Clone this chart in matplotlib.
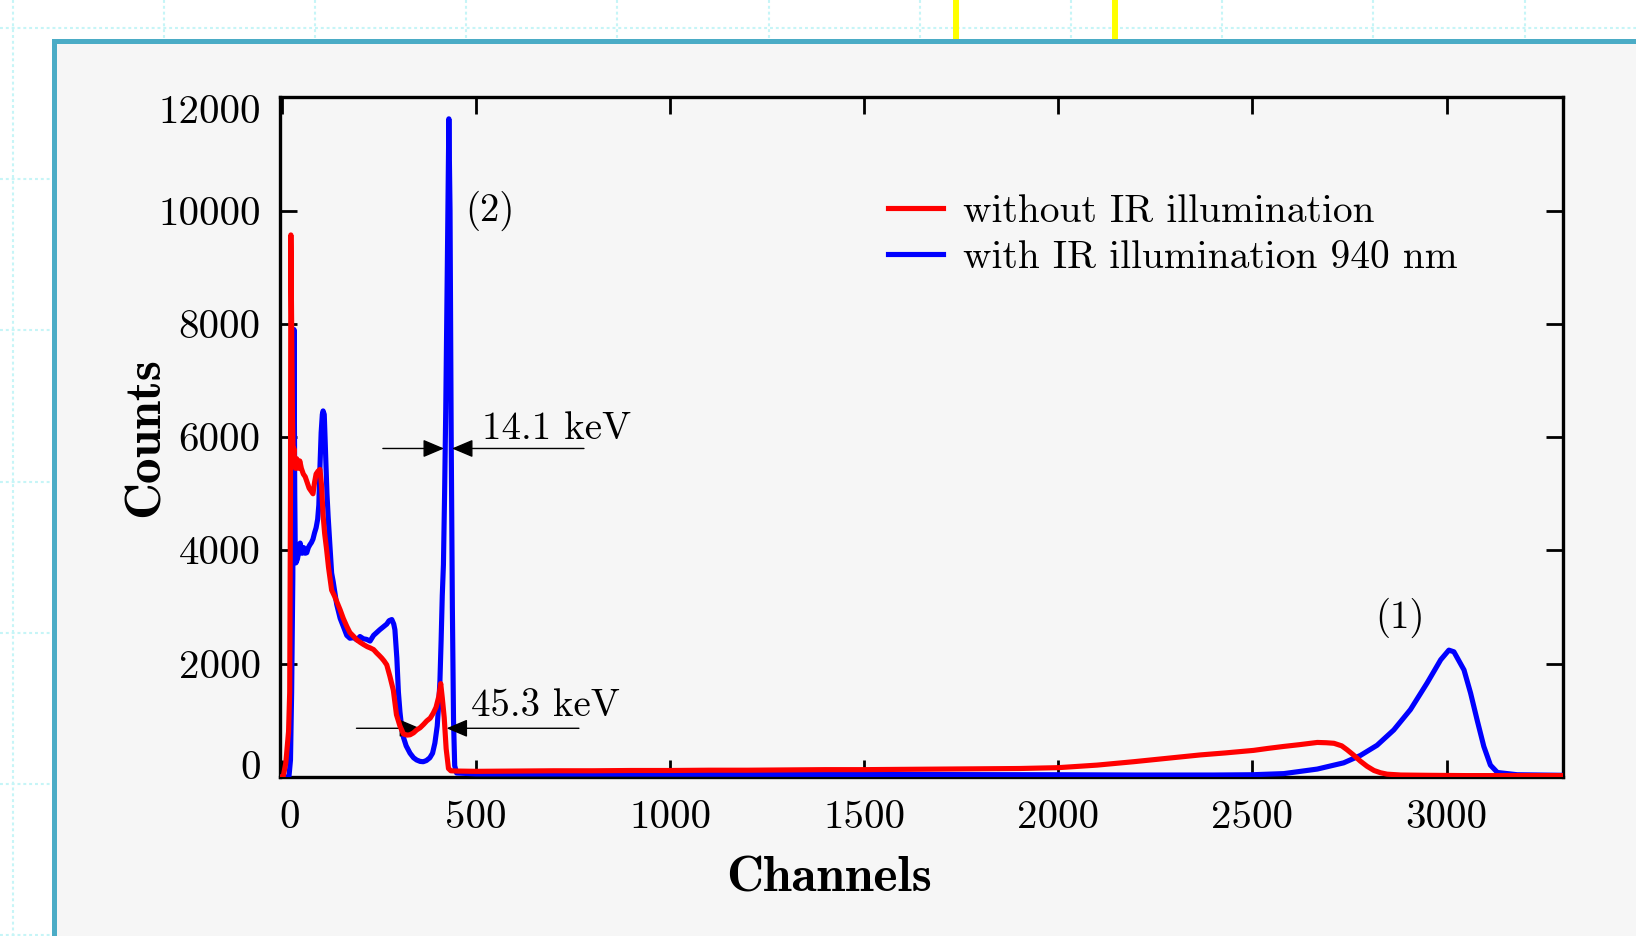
import matplotlib
matplotlib.use("Agg")
import matplotlib.pyplot as plt
from matplotlib.patches import Rectangle
from matplotlib.transforms import ScaledTranslation
import numpy as np

# ---------------- data ----------------
red_ch = [0, 3, 10, 17, 20, 22, 23, 25, 27, 29, 31, 33, 35, 38, 42, 46, 50, 55, 60, 65,
          70, 75, 80, 84, 88, 93, 98, 102, 106, 110, 115, 120, 128, 135, 141, 150, 158,
          167, 175, 185, 193, 201, 210, 220, 227, 236, 244, 250, 257, 263, 270, 278, 287,
          295, 304, 313, 322, 330, 339, 347, 356, 365, 373, 382, 390, 397, 404, 409, 413,
          418, 423, 429, 435, 450, 500, 600, 700, 800, 900, 1000, 1100, 1200, 1300, 1400,
          1500, 1600, 1700, 1800, 1900, 2000, 2100, 2194, 2280, 2366, 2430, 2503, 2540,
          2581, 2620, 2667, 2690, 2710, 2730, 2744, 2760, 2778, 2795, 2813, 2830, 2847,
          2882, 2950, 3050, 3150, 3300]
red_counts = [0, 0, 250, 800, 1500, 5000, 9570, 8000, 6400, 5650, 5800, 5500, 5450, 5620,
              5450, 5580, 5450, 5350, 5300, 5200, 5100, 5050, 5000, 5200, 5350, 5400, 5430,
              5150, 4620, 4300, 4020, 3700, 3300, 3200, 3100, 2950, 2800, 2660, 2550, 2480,
              2420, 2380, 2340, 2300, 2280, 2250, 2190, 2150, 2100, 2050, 1980, 1780, 1530,
              1100, 900, 760, 740, 745, 780, 830, 870, 930, 990, 1040, 1130, 1230, 1420,
              1650, 1400, 1050, 500, 150, 110, 105, 100, 105, 110, 110, 115, 115, 120, 120,
              125, 130, 130, 135, 140, 145, 150, 165, 210, 270, 330, 390, 425, 470, 505,
              540, 570, 610, 605, 595, 550, 480, 390, 280, 190, 115, 75, 50, 35, 30, 25,
              25, 25]

blue_ch = [0, 18, 22, 25, 28, 30, 31, 32, 33, 34, 36, 40, 44, 47, 52, 56, 60, 64, 68, 72,
           76, 80, 84, 88, 92, 95, 98, 101, 104, 106, 109, 111, 113.5, 116, 119, 123, 128,
           132, 141, 150, 158, 167, 175, 185, 193, 201, 210, 218, 227, 236, 244, 252, 261,
           270, 276, 283, 288, 291, 294, 296, 300, 304, 308, 313, 320, 330, 339, 347, 356,
           364, 372, 381, 388, 394, 400, 404, 407, 410, 413, 416, 419, 422, 426, 430, 433,
           436, 439, 442, 445, 450, 500, 1000, 1500, 2000, 2200, 2400, 2500, 2581, 2667,
           2735, 2778, 2821, 2864, 2907, 2950, 2985, 3006, 3019, 3045, 3062, 3079, 3096,
           3113, 3131, 3182, 3300]
blue_counts = [0, 0, 300, 1500, 3500, 6500, 7900, 6500, 5000, 4200, 3780, 3850, 4000, 4130,
               3950, 4050, 3950, 3960, 4050, 4100, 4140, 4200, 4310, 4400, 4550, 4800, 5490,
               6080, 6400, 6463, 6400, 6000, 5490, 5000, 4600, 4150, 3600, 3450, 3050, 2800,
               2660, 2500, 2450, 2460, 2420, 2480, 2440, 2430, 2400, 2500, 2550, 2600, 2650,
               2700, 2760, 2780, 2700, 2600, 2300, 2100, 1500, 1150, 900, 700, 550, 420, 340,
               300, 275, 270, 290, 340, 420, 600, 900, 1300, 1700, 2400, 3200, 3750, 5000,
               6500, 9000, 11620, 10000, 6000, 3000, 1000, 200, 70, 55, 50, 45, 40, 35, 35,
               40, 60, 140, 250, 380, 560, 830, 1190, 1660, 2070, 2240, 2210, 1890, 1480,
               1000, 540, 210, 80, 40, 30]

x_ticks = [0, 500, 1000, 1500, 2000, 2500, 3000]
y_ticks = [0, 2000, 4000, 6000, 8000, 10000, 12000]
x_tick_labels = ["0", "500", "1000", "1500", "2000", "2500", "3000"]
y_tick_labels = ["0", "2000", "4000", "6000", "8000", "10000", "12000"]
legend_labels = ["without IR illumination", "with IR illumination 940 nm"]

# ---------------- figure ----------------
W, H, DPI = 1636, 936, 100
plt.rcParams["font.family"] = ["cmr10", "DejaVu Serif"]
plt.rcParams["axes.formatter.use_mathtext"] = True
plt.rcParams["axes.unicode_minus"] = False

fig = plt.figure(figsize=(W / DPI, H / DPI), dpi=DPI, facecolor="white")

# page-like background (grid paper, framed panel, yellow marks)
bg = fig.add_axes([0, 0, 1, 1])
bg.set_xlim(0, W)
bg.set_ylim(H, 0)
bg.axis("off")
grid_col = "#c6f5f7"
for gx in np.arange(12.6, W, 151.2):
    bg.plot([gx, gx], [0, H], color=grid_col, lw=1.5, ls=(0, (1.4, 1.4)), zorder=0)
for gy in np.arange(28, H, 151.2):
    bg.plot([0, W], [gy, gy], color=grid_col, lw=1.5, ls=(0, (1.4, 1.4)), zorder=0)
for yx in (956, 1115):
    bg.plot([yx, yx], [0, 40], color="#ffff00", lw=4.3, solid_capstyle="butt", zorder=1)
bg.add_patch(Rectangle((53.5, 40.5), W * 2, H * 2, facecolor="#f6f6f6",
                       edgecolor="#4bacc6", lw=3.6, zorder=2))

# main axes
ax = fig.add_axes([280 / W, 1 - 777 / H, (1563 - 280) / W, (777 - 97.3) / H])
ax.set_facecolor("none")

lb, = ax.plot(blue_ch, blue_counts, color="#0000ff", lw=3.7, solid_joinstyle="round", zorder=3)
lr, = ax.plot(red_ch, red_counts, color="#ff0000", lw=3.7, solid_joinstyle="round", zorder=4)

ax.set_xlim(-5, 3300)
ax.set_ylim(0, 12000)
ax.set_xticks(x_ticks)
ax.set_xticklabels(x_tick_labels)
ax.set_yticks(y_ticks)
ax.set_yticklabels(y_tick_labels)
ax.tick_params(direction="in", length=12, width=2.0, top=True, right=True,
               labelsize=29.5, colors="black")
ax.tick_params(axis="x", pad=17)
ax.tick_params(axis="y", pad=14)
for s in ax.spines.values():
    s.set_linewidth(2.4)

# shift end labels inward like the reference
xl = ax.get_xticklabels()
xl[0].set_transform(xl[0].get_transform() + ScaledTranslation(8 / DPI, 0, fig.dpi_scale_trans))
yl = ax.get_yticklabels()
yl[0].set_transform(yl[0].get_transform() + ScaledTranslation(0, 12 / DPI, fig.dpi_scale_trans))
yl[-1].set_transform(yl[-1].get_transform() + ScaledTranslation(0, -12 / DPI, fig.dpi_scale_trans))

ax.set_xlabel("Channels", fontsize=37, fontfamily="cmb10")
ax.xaxis.set_label_coords((829.5 - 280) / (1563 - 280), (777 - 879) / (777 - 97.3))
ax.xaxis.label.set_va("center")
ax.set_ylabel("Counts", fontsize=37, fontfamily="cmb10")
ax.yaxis.set_label_coords((146 - 280) / (1563 - 280), 0.5)
ax.yaxis.label.set_va("center")

leg = ax.legend([lr, lb], legend_labels, loc="upper left",
                bbox_to_anchor=((888 - 280) / (1563 - 280), (777 - 194) / (777 - 97.3)),
                frameon=False, fontsize=28.4, handlelength=1.4, handletextpad=0.5,
                borderpad=0, borderaxespad=0, labelspacing=0.25)

# annotations
ax.text(536, 9995, "(2)", fontsize=28, ha="center", va="center")
ax.text(2881, 2813, "(1)", fontsize=28, ha="center", va="center")
ax.text(515, 6150, "14.1 keV", fontsize=28, ha="left", va="center")
ax.text(487, 1250, "45.3 keV", fontsize=28, ha="left", va="center")

aprops = dict(arrowstyle="-|>,head_length=1.3,head_width=0.55", color="black", lw=1.0,
              shrinkA=0, shrinkB=0, mutation_scale=10)
ax.annotate("", xy=(417.5, 5800), xytext=(260, 5800), arrowprops=aprops)
ax.annotate("", xy=(438, 5800), xytext=(778, 5800), arrowprops=aprops)
ax.annotate("", xy=(356, 860), xytext=(192, 860), arrowprops=aprops)
ax.annotate("", xy=(424, 860), xytext=(765, 860), arrowprops=aprops)

fig.savefig("out.png", dpi=DPI, facecolor="white")
